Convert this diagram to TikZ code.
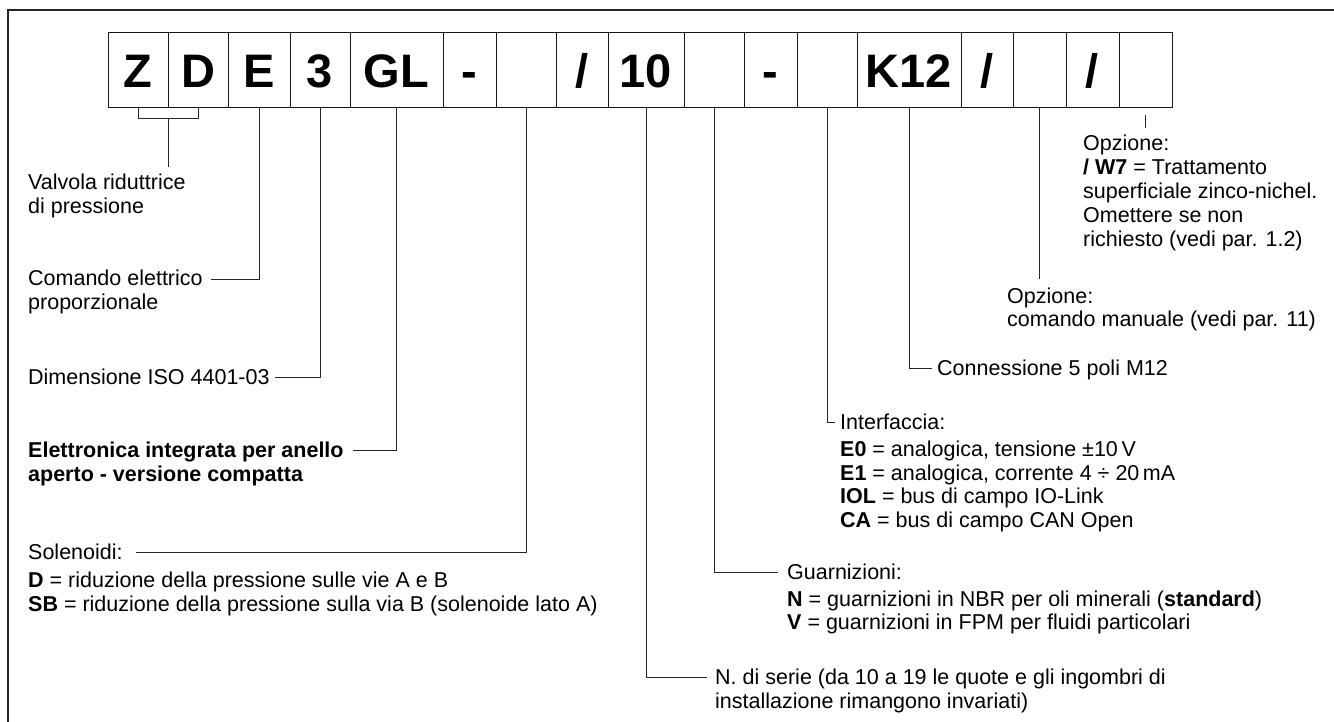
\documentclass[tikz,border=0pt]{standalone}
\usepackage{fontspec}
\setmainfont{Liberation Sans}
\newcommand{\lblfont}{\fontsize{21.5}{23.5}\selectfont}
\newcommand{\boxfont}{\fontsize{47}{50}\selectfont\bfseries}
\newcommand{\tl}[1]{\begin{tabular}[t]{@{}l@{}}#1\end{tabular}}
\begin{document}
\begin{tikzpicture}[x=1pt,y=-1pt,
  cbox/.style={draw=black!90, line width=1pt, minimum height=75pt, inner sep=0pt,
    text height=34pt, text depth=0pt, font=\boxfont},
  lbl/.style={anchor=base west, inner sep=0pt, font=\lblfont},
  lead/.style={draw=black!85, line width=0.9pt},
  frame/.style={draw=black!85, line width=1.3pt}]
\useasboundingbox (0,0) rectangle (1334,722);
\draw[frame] (1334,10) -- (8,10) -- (8,722);
% boxes
\node[cbox, minimum width=60pt] (b1) at (138,70.5) {Z};
\node[cbox, minimum width=60pt] (b2) at (198,70.5) {D};
\node[cbox, minimum width=62pt] (b3) at (259,70.5) {E};
\node[cbox, minimum width=60pt] (b4) at (320,70.5) {3};
\node[cbox, minimum width=93pt] (b5) at (396.5,70.5) {GL};
\node[cbox, minimum width=53pt] (b6) at (469.5,70.5) {-};
\node[cbox, minimum width=60pt] (b7) at (526,70.5) {};
\node[cbox, minimum width=52pt] (b8) at (582,70.5) {/};
\node[cbox, minimum width=76pt] (b9) at (646,70.5) {10};
\node[cbox, minimum width=60pt] (b10) at (714,70.5) {};
\node[cbox, minimum width=53pt] (b11) at (770.5,70.5) {-};
\node[cbox, minimum width=60pt] (b12) at (827,70.5) {};
\node[cbox, minimum width=104pt] (b13) at (909,70.5) {K12};
\node[cbox, minimum width=52pt] (b14) at (987,70.5) {/};
\node[cbox, minimum width=53pt] (b15) at (1039.5,70.5) {};
\node[cbox, minimum width=53pt] (b16) at (1092.5,70.5) {/};
\node[cbox, minimum width=53pt] (b17) at (1145.5,70.5) {};
% labels
\node[lbl] (lV) at (28,190) {\tl{Valvola riduttrice\\di pressione}};
\node[lbl] (lC) at (28,286) {\tl{Comando elettrico\\proporzionale}};
\node[lbl] (lD) at (28,384.5) {Dimensione ISO 4401-03};
\node[lbl, font=\lblfont\bfseries] (lG) at (28,457.5) {\tl{Elettronica integrata per anello\\aperto - versione compatta}};
\node[lbl] (lS) at (28,559.5) {Solenoidi:};
\node[lbl] (lS2) at (28,587) {\tl{\textbf{D} = riduzione della pressione sulle vie A e B\\[0.5pt]\textbf{SB} = riduzione della pressione sulla via B (solenoide lato A)}};
\node[lbl] (lN) at (715,684.5) {\tl{N. di serie (da 10 a 19 le quote e gli ingombri di\\installazione rimangono invariati)}};
\node[lbl] (lGu) at (787,579.5) {\tl{Guarnizioni:\\[3pt]\textbf{N} = guarnizioni in NBR per oli minerali (\textbf{standard})\\\textbf{V} = guarnizioni in FPM per fluidi particolari}};
\node[lbl] (lI) at (840,429.5) {\tl{Interfaccia:\\[3.5pt]\textbf{E0} = analogica, tensione ±10\,V\\\textbf{E1} = analogica, corrente 4 ÷ 20\,mA\\\textbf{IOL} = bus di campo IO-Link\\\textbf{CA} = bus di campo CAN Open}};
\node[lbl] (lK) at (937,375.5) {Connessione 5 poli M12};
\node[lbl] (lO2) at (1007,303.5) {\tl{Opzione:\\comando manuale (vedi par. 11)}};
\node[lbl] (lO1) at (1083,150.5) {\tl{Opzione:\\[0.5pt]\textbf{/ W7} = Trattamento\\[0.5pt]superficiale zinco-nichel.\\[0.5pt]Omettere se non\\[0.5pt]richiesto (vedi par. 1.2)}};
% connector ends
\coordinate (zdL) at (138,118);
\coordinate (zdR) at (198,118);
\coordinate (zdM) at (168,118);
\coordinate (zdE) at (168,167);
\coordinate (cE) at (211,279);
\coordinate (c3) at (275,377);
\coordinate (cG) at (353,450);
\coordinate (cS) at (136,552);
\coordinate (cN) at (707,677);
\coordinate (cGu) at (778,572);
\coordinate (cI) at (835,422);
\coordinate (cK) at (932,368);
\coordinate (cO2) at (1039.5,279);
\coordinate (cW7a) at (1145.5,115);
\coordinate (cW7b) at (1145.5,128);
% connectors
\draw[lead] (b1.south) -- (zdL) -- (zdR) -- (b2.south);
\draw[lead] (zdM) -- (zdE);
\draw[lead] (b3.south) |- (cE);
\draw[lead] (b4.south) |- (c3);
\draw[lead] (b5.south) |- (cG);
\draw[lead] (b7.south) |- (cS);
\draw[lead] (b9.south) |- (cN);
\draw[lead] (b10.south) |- (cGu);
\draw[lead] (b12.south) |- (cI);
\draw[lead] (b13.south) |- (cK);
\draw[lead] (b15.south) -- (cO2);
\draw[lead] (cW7a) -- (cW7b);
\end{tikzpicture}
\end{document}
